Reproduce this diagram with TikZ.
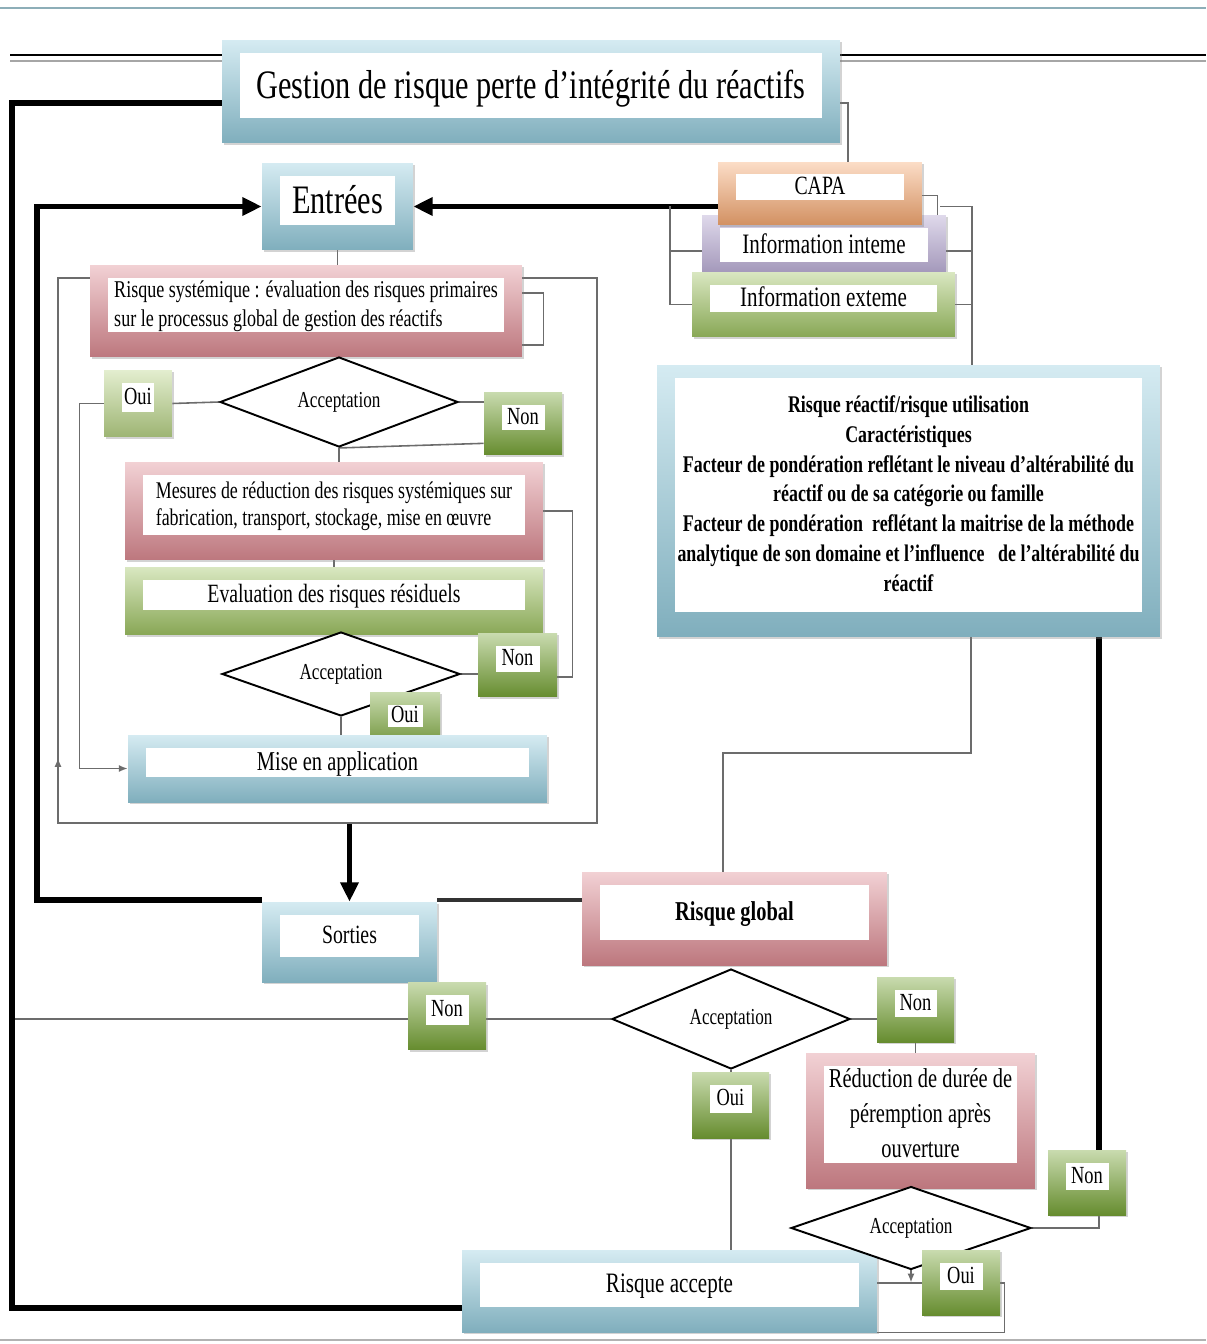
\documentclass[tikz,border=0pt]{standalone}
\usepackage{fontspec}
\setmainfont{Liberation Serif}[FakeStretch=0.75]
\usepackage{tikz}
\usetikzlibrary{shapes.geometric,arrows.meta,backgrounds,shadows}
\definecolor{bleu}{RGB}{150,205,222}
\definecolor{rose}{RGB}{222,140,148}
\definecolor{vert}{RGB}{160,196,100}
\definecolor{vertfonce}{RGB}{120,165,55}
\definecolor{vertclair}{RGB}{185,212,135}
\definecolor{orangec}{RGB}{247,170,115}
\definecolor{violet}{RGB}{175,160,205}
\tikzset{
  boite/.style={top color=#1!40!white, bottom color=#1!85!black, inner sep=0pt, align=center, text depth=0.3cm,
    drop shadow={shadow xshift=1.2pt, shadow yshift=-1.2pt, opacity=0.35},
    path picture={\fill[white] ([shift={(0.35cm,-0.25cm)}]path picture bounding box.north west) rectangle ([shift={(-0.35cm,0.5cm)}]path picture bounding box.south east);}},
  losange/.style={diamond, draw=black, line width=1.1pt, fill=white, inner sep=0pt, aspect=2.6, font=\fontsize{13}{15}\selectfont},
  fin/.style={draw=gray!85!black, line width=0.9pt},
  epais/.style={draw=black, line width=3.2pt},
  fleche/.style={-{Triangle[length=11pt,width=10pt]}},
  petitefleche/.style={-{Latex[length=5pt,width=4pt]}}
}

\begin{document}
\begin{tikzpicture}[x=0.02cm, y=-0.02cm]
\useasboundingbox (0,0) rectangle (1206,1344);
\node[boite=bleu, minimum width=12.36cm, minimum height=2.06cm, font=\fontsize{23}{26}\selectfont] (titre) at (531,91.5) {Gestion de risque perte d’intégrité du réactifs};
\node[boite=bleu, minimum width=3.02cm, minimum height=1.74cm, font=\fontsize{23}{26}\selectfont] (entrees) at (337.5,206.5) {Entrées};
\node[boite=violet, minimum width=4.88cm, minimum height=1.44cm, font=\fontsize{16}{18}\selectfont] (infoint) at (824,251) {Information inteme};
\node[boite=orangec, minimum width=4.08cm, minimum height=1.26cm, font=\fontsize{15}{18}\selectfont] (capa) at (820,193.5) {CAPA};
\node[boite=vert, minimum width=5.26cm, minimum height=1.3cm, font=\fontsize{16}{18}\selectfont] (infoext) at (823.5,304.5) {Information exteme};
\node[boite=rose, minimum width=8.64cm, minimum height=1.84cm, align=left, font=\fontsize{13.7}{16.4}\selectfont] (rsyst) at (306,311) {Risque systémique : évaluation des risques primaires\\sur le processus global de gestion des réactifs};
\node[boite=vertclair, minimum width=1.36cm, minimum height=1.34cm, font=\fontsize{14}{16}\selectfont] (oui1) at (138,403.5) {Oui};
\node[losange, minimum width=4.76cm, minimum height=1.8cm] (acc1) at (339,402) {Acceptation};
\node[boite=vertfonce, minimum width=1.56cm, minimum height=1.26cm, font=\fontsize{14}{16}\selectfont] (non1) at (523,423.5) {Non};
\node[boite=rose, minimum width=8.36cm, minimum height=1.96cm, align=left, font=\fontsize{13.6}{15.3}\selectfont] (mesures) at (334,511) {Mesures de réduction des risques systémiques sur\\fabrication, transport, stockage, mise en œuvre};
\node[boite=vert, minimum width=8.36cm, minimum height=1.36cm, font=\fontsize{15}{18}\selectfont] (evalres) at (334,601) {Evaluation des risques résiduels};
\node[losange, minimum width=4.76cm, minimum height=1.68cm] (acc2) at (341,674) {Acceptation};
\node[boite=vertfonce, minimum width=1.58cm, minimum height=1.28cm, font=\fontsize{14}{16}\selectfont] (non2) at (517.5,665) {Non};
\node[boite=vertfonce, minimum width=1.4cm, minimum height=1.2cm, font=\fontsize{14}{16}\selectfont] (oui2) at (405,722) {Oui};
\node[boite=bleu, minimum width=8.38cm, minimum height=1.34cm, font=\fontsize{15.5}{18}\selectfont] (mise) at (337.5,768.5) {Mise en application};
\node[boite=bleu, minimum width=3.5cm, minimum height=1.6cm, font=\fontsize{15}{18}\selectfont] (sorties) at (349.5,942) {Sorties};
\node[boite=bleu, minimum width=10.06cm, minimum height=5.44cm, font=\bfseries\fontsize{13.6}{17}\selectfont] (rreactif) at (908.5,501) {Risque réactif/risque utilisation\\Caractéristiques\\Facteur de pondération reflétant le niveau d’altérabilité du\\réactif ou de sa catégorie ou famille\\Facteur de pondération\ \ reflétant la maitrise de la méthode\\analytique de son domaine et l’influence\ \ \ de l’altérabilité du\\réactif};
\node[boite=rose, minimum width=6.1cm, minimum height=1.86cm, font=\bfseries\fontsize{15.5}{18}\selectfont] (rglobal) at (734.5,918.5) {Risque global};
\node[losange, minimum width=4.76cm, minimum height=2.0cm] (acc3) at (731,1019) {Acceptation};
\node[boite=vertfonce, minimum width=1.56cm, minimum height=1.34cm, font=\fontsize{14}{16}\selectfont] (non3) at (447,1016) {Non};
\node[boite=vertfonce, minimum width=1.54cm, minimum height=1.3cm, font=\fontsize{14}{16}\selectfont] (non4) at (915.5,1009.5) {Non};
\node[boite=vertfonce, minimum width=1.54cm, minimum height=1.32cm, font=\fontsize{14}{16}\selectfont] (oui3) at (730.5,1105) {Oui};
\node[boite=rose, minimum width=4.58cm, minimum height=2.7cm, font=\fontsize{15.5}{19.8}\selectfont] (reduc) at (920.5,1120.5) {Réduction de durée de\\péremption après\\ouverture};
\node[boite=vertfonce, minimum width=1.56cm, minimum height=1.3cm, font=\fontsize{14}{16}\selectfont] (non5) at (1087,1182.5) {Non};
\node[boite=bleu, minimum width=8.3cm, minimum height=1.64cm, font=\fontsize{16}{18}\selectfont] (raccept) at (669.5,1291) {Risque accepte};
\node[losange, minimum width=4.8cm, minimum height=1.66cm] (acc4) at (911,1228) {Acceptation};
\node[boite=vertfonce, minimum width=1.56cm, minimum height=1.3cm, font=\fontsize{14}{16}\selectfont] (oui4) at (961,1282.5) {Oui};
\coordinate (coinbas) at (12,1308);
\coordinate (retour) at (37,900);
\coordinate (cadreNO) at (58,278);
\coordinate (cadreSE) at (597,823);
\coordinate (accg) at (670,0);
\coordinate (accd) at (972,0);
\coordinate (crg) at (971,753);
\coordinate (cnd) at (1099,0);
\begin{scope}[on background layer]
\draw[draw=bleu!60!gray, line width=1.5pt] (0,8) -- (1206,8);
\draw[draw=gray!60, line width=1.5pt] (0,1340) -- (1206,1340);
\draw[black, line width=1.3pt] (10,55) -- (1206,55);
\draw[gray!70, line width=1.6pt] (10,61) -- (1206,61);
\draw[epais] ([yshift=-0.23cm]titre.west) -| (coinbas) -- (coinbas -| raccept.west);
\draw[draw=black!80, line width=2pt] (retour -| rglobal.west) -- (retour -| sorties.east);
\draw[epais, fleche] (retour -| sorties.west) -- (retour) |- (entrees.west);
\draw[epais, fleche] (capa.west |- entrees.east) -- (entrees.east);
\draw[epais, fleche] (cadreSE -| sorties.north) -- (sorties.north);
\draw[fin] (cadreNO -| rsyst.west) -- (cadreNO) |- (cadreSE) |- (cadreNO -| rsyst.east);
\draw[fin, petitefleche] (cadreNO |- cadreSE) -- ++(0,-65);
\draw[fin] ([yshift=0.36cm]rsyst.east) -- ++(21,0) |- ([yshift=-0.68cm]rsyst.east);
\draw[fin] (entrees.south) -- (entrees.south |- rsyst.north);
\draw[fin] (acc1.west) -- (oui1.east);
\draw[fin, petitefleche] (oui1.west) -- ++(-24,0) |- (mise.west);
\draw[fin] (acc1.east) -- (acc1.east -| non1.west);
\draw[fin] (acc1.south) -- ([yshift=0.24cm]non1.south west);
\draw[fin] (acc1.south) -- (acc1.south |- mesures.north);
\draw[fin] (mesures.south) -- (mesures.south |- evalres.north);
\draw[fin] (mesures.east) -- ++(29,0) |- ([yshift=-0.24cm]non2.east);
\draw[fin] (acc2.east) -- (acc2.east -| non2.west);
\draw[fin] (acc2.south) -- (acc2.south |- mise.north);
\draw[fin] ([yshift=-0.23cm]titre.east) -| ([xshift=0.56cm]capa.north);
\draw[fin] (accg |- entrees.east) |- (infoext.west);
\draw[fin] (infoint.west) -- (infoint.west -| accg);
\draw[fin] ([yshift=-0.04cm]capa.east) -- ++(15,0) -- ++(0,20);
\draw[fin] (capa.east |- entrees.east) ++(18,0) -- (accd |- entrees.east) -- (accd |- rreactif.north);
\draw[fin] (infoint.east) -- (infoint.east -| accd);
\draw[fin] (infoext.east) -- (infoext.east -| accd);
\draw[fin] (crg |- rreactif.south) -- (crg) -| ([xshift=-0.23cm]rglobal.north);
\draw[epais] (cnd |- rreactif.south) -- (cnd |- non5.north);
\draw[fin] (acc4.east) -| (cnd |- non5.south);
\draw[fin] (acc3.west -| 15,0) -- (acc3.west);
\draw[fin] (acc3.east) -- (acc3.east -| non4.west);
\draw[fin] (non4.south) -- (non4.south |- reduc.north);
\draw[fin] (acc3.south) -- (acc3.south |- raccept.north);
\draw[fin, petitefleche] (acc4.south) -- ++(0,12);
\draw[fin] ([yshift=0.16cm]raccept.east) -- ++(127,0) |- (raccept.south east);
\end{scope}
\end{tikzpicture}
\end{document}
